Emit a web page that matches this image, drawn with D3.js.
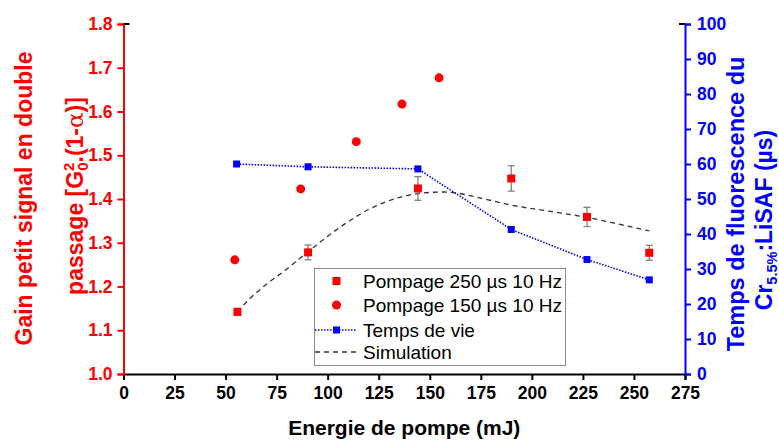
<!DOCTYPE html>
<html>
<head>
<meta charset="utf-8">
<script src="https://cdn.jsdelivr.net/npm/d3@7"></script>
<style>
  html, body { margin: 0; padding: 0; background: #fff; }
  svg { display: block; font-family: "Liberation Sans", Arial, sans-serif; }
</style>
</head>
<body>
<svg id="chart" width="779" height="440"></svg>
<script>
// ---- data ----
const xTicks = [0, 25, 50, 75, 100, 125, 150, 175, 200, 225, 250, 275];
const gainTicks = [1.0, 1.1, 1.2, 1.3, 1.4, 1.5, 1.6, 1.7, 1.8];
const lifeTicks = [0, 10, 20, 30, 40, 50, 60, 70, 80, 90, 100];

const p250Energy = [55.8, 90.4, 144.2, 189.9, 227.0, 257.5];
const p250Gain   = [1.142, 1.278, 1.424, 1.447, 1.359, 1.277];
const p250Err    = [0.008, 0.017, 0.027, 0.029, 0.022, 0.017];

const p150Energy = [54.5, 86.8, 114.0, 136.4, 154.6];
const p150Gain   = [1.261, 1.423, 1.531, 1.617, 1.677];

const lifeEnergy = [55.4, 90.4, 144.2, 189.9, 227.0, 257.5];
const lifeValue  = [60.0, 59.2, 58.6, 41.3, 32.7, 26.9];

const simEnergy = [55.8, 62, 70, 80, 90, 100, 110, 120, 130, 140, 150, 157, 165, 175, 190, 210, 227, 245, 257.5];
const simGain   = [1.142, 1.173, 1.205, 1.24, 1.278, 1.315, 1.348, 1.376, 1.396, 1.409, 1.415, 1.416, 1.412, 1.402, 1.386, 1.371, 1.358, 1.34, 1.327];

const legendLabels = ["Pompage 250 µs 10 Hz", "Pompage 150 µs 10 Hz", "Temps de vie", "Simulation"];

// ---- layout ----
const svg = d3.select("#chart");
const mLeft = 123.5, mRight = 685, mTop = 24, mBottom = 374;
const RED = "#ff0000", BLUE = "#0000ff";

const x = d3.scaleLinear().domain([0, 275]).range([mLeft, mRight]);
const yG = d3.scaleLinear().domain([1.0, 1.8]).range([mBottom, mTop]);
const yL = d3.scaleLinear().domain([0, 100]).range([mBottom, mTop]);

// ---- axes ----
const gx = svg.append("g").attr("transform", `translate(0,${mBottom})`)
  .call(d3.axisBottom(x).tickValues(xTicks).tickFormat(d3.format("d")).tickSizeOuter(0).tickSize(6).tickPadding(7));
gx.select(".domain").attr("stroke", "#000").attr("stroke-width", 2);
gx.selectAll(".tick line").attr("stroke", "#000").attr("stroke-width", 2);
gx.selectAll(".tick text").attr("fill", "#000").attr("font-size", 17.5).attr("font-weight", "bold")
  .attr("font-family", "Liberation Sans, Arial, sans-serif");

const gl = svg.append("g").attr("transform", `translate(${mLeft},0)`)
  .call(d3.axisLeft(yG).tickValues(gainTicks).tickFormat(d3.format(".1f")).tickSizeOuter(0).tickSize(6).tickPadding(5));
gl.select(".domain").attr("stroke", RED).attr("stroke-width", 2);
gl.selectAll(".tick line").attr("stroke", RED).attr("stroke-width", 2);
gl.selectAll(".tick text").attr("fill", RED).attr("font-size", 17.5).attr("font-weight", "bold")
  .attr("font-family", "Liberation Sans, Arial, sans-serif");

const gr = svg.append("g").attr("transform", `translate(${mRight},0)`)
  .call(d3.axisRight(yL).tickValues(lifeTicks).tickFormat(d3.format("d")).tickSizeOuter(0).tickSize(6).tickPadding(6));
gr.select(".domain").attr("stroke", BLUE).attr("stroke-width", 2);
gr.selectAll(".tick line").attr("stroke", BLUE).attr("stroke-width", 2);
gr.selectAll(".tick text").attr("fill", BLUE).attr("font-size", 17.5).attr("font-weight", "bold")
  .attr("font-family", "Liberation Sans, Arial, sans-serif");

// small black corner ticks at the top
svg.append("line").attr("x1", mLeft).attr("x2", mLeft + 6).attr("y1", mTop).attr("y2", mTop).attr("stroke", "#000").attr("stroke-width", 2);
svg.append("line").attr("x1", mRight - 6).attr("x2", mRight).attr("y1", mTop).attr("y2", mTop).attr("stroke", "#000").attr("stroke-width", 2);

// ---- axis titles ----
svg.append("text").attr("text-anchor", "middle").attr("font-size", 21).attr("font-weight", "bold")
  .attr("x", (mLeft + mRight) / 2).attr("y", 435).attr("fill", "#000").text("Energie de pompe (mJ)");

svg.append("text").attr("transform", "translate(31.5,198.5) rotate(-90)")
  .attr("text-anchor", "middle").attr("font-size", 23).attr("font-weight", "bold").attr("fill", RED)
  .text("Gain petit signal en double");

const lt2 = svg.append("text").attr("transform", "translate(82.5,196) rotate(-90)")
  .attr("text-anchor", "middle").attr("font-size", 23).attr("font-weight", "bold").attr("fill", RED);
lt2.append("tspan").text("passage [G");
lt2.append("tspan").attr("font-size", 15).attr("dy", -9).text("2");
lt2.append("tspan").attr("font-size", 15).attr("dx", -8.3).attr("dy", 14).text("0");
lt2.append("tspan").attr("dy", -5).text(".(1-");
lt2.append("tspan").attr("font-family", "DejaVu Serif, serif").attr("font-weight", "normal").text("α");
lt2.append("tspan").text(")]");

svg.append("text").attr("transform", "translate(744,204) rotate(-90)")
  .attr("text-anchor", "middle").attr("font-size", 23.5).attr("font-weight", "bold").attr("fill", BLUE)
  .text("Temps de fluorescence du");

const rt2 = svg.append("text").attr("transform", "translate(771.5,220) rotate(-90)")
  .attr("text-anchor", "middle").attr("font-size", 23).attr("font-weight", "bold").attr("fill", BLUE);
rt2.append("tspan").text("Cr");
rt2.append("tspan").attr("font-size", 14.5).attr("dy", 5).text("5.5%");
rt2.append("tspan").attr("dy", -5).text(":LiSAF (µs)");

// ---- simulation (dashed) ----
const simData = simEnergy.map((e, i) => [e, simGain[i]]);
svg.append("path").datum(simData)
  .attr("d", d3.line().x(d => x(d[0])).y(d => yG(d[1])).curve(d3.curveMonotoneX))
  .attr("fill", "none").attr("stroke", "#333").attr("stroke-width", 1.3).attr("stroke-dasharray", "5,4");

// ---- lifetime (dotted blue) ----
const lifeData = lifeEnergy.map((e, i) => [e, lifeValue[i]]);
svg.append("path").datum(lifeData)
  .attr("d", d3.line().x(d => x(d[0])).y(d => yL(d[1])))
  .attr("fill", "none").attr("stroke", BLUE).attr("stroke-width", 1.6).attr("stroke-dasharray", "1.5,1.5");
svg.selectAll(".lifept").data(lifeData).enter().append("rect")
  .attr("x", d => x(d[0]) - 3.5).attr("y", d => yL(d[1]) - 3.5).attr("width", 7).attr("height", 7).attr("fill", BLUE);

// ---- 250 µs points with error bars ----
const p250 = p250Energy.map((e, i) => ({ e, g: p250Gain[i], err: p250Err[i] }));
const eb = svg.selectAll(".eb").data(p250).enter().append("g").attr("stroke", "#808080").attr("stroke-width", 1.3);
eb.append("line").attr("x1", d => x(d.e)).attr("x2", d => x(d.e)).attr("y1", d => yG(d.g - d.err)).attr("y2", d => yG(d.g + d.err));
eb.append("line").attr("x1", d => x(d.e) - 3.5).attr("x2", d => x(d.e) + 3.5).attr("y1", d => yG(d.g - d.err)).attr("y2", d => yG(d.g - d.err));
eb.append("line").attr("x1", d => x(d.e) - 3.5).attr("x2", d => x(d.e) + 3.5).attr("y1", d => yG(d.g + d.err)).attr("y2", d => yG(d.g + d.err));
svg.selectAll(".p250").data(p250).enter().append("rect")
  .attr("x", d => x(d.e) - 4).attr("y", d => yG(d.g) - 4).attr("width", 8).attr("height", 8).attr("fill", RED);

// ---- 150 µs circles ----
const p150 = p150Energy.map((e, i) => [e, p150Gain[i]]);
svg.selectAll(".p150").data(p150).enter().append("circle")
  .attr("cx", d => x(d[0])).attr("cy", d => yG(d[1])).attr("r", 4.5).attr("fill", RED);

// ---- legend ----
const lg = svg.append("g");
lg.append("rect").attr("x", 314.5).attr("y", 268.5).attr("width", 251).attr("height", 97)
  .attr("fill", "#fff").attr("stroke", "#8c8c8c").attr("stroke-width", 1);
const rowY = [281, 305, 330, 352];
const symX = 336.5, txtX = 363;
lg.append("rect").attr("x", symX - 4).attr("y", rowY[0] - 4).attr("width", 8).attr("height", 8).attr("fill", RED);
lg.append("circle").attr("cx", symX).attr("cy", rowY[1]).attr("r", 4.5).attr("fill", RED);
lg.append("line").attr("x1", 315).attr("x2", 357).attr("y1", rowY[2]).attr("y2", rowY[2])
  .attr("stroke", BLUE).attr("stroke-width", 1.6).attr("stroke-dasharray", "1.5,1.5");
lg.append("rect").attr("x", symX - 3.5).attr("y", rowY[2] - 3.5).attr("width", 7).attr("height", 7).attr("fill", BLUE);
lg.append("line").attr("x1", 315).attr("x2", 357).attr("y1", rowY[3]).attr("y2", rowY[3])
  .attr("stroke", "#333").attr("stroke-width", 1.3).attr("stroke-dasharray", "5,4");
legendLabels.forEach((t, i) => {
  lg.append("text").attr("x", txtX).attr("y", rowY[i] + 6.5).attr("font-size", 19).attr("fill", "#000").text(t);
});
</script>
</body>
</html>
